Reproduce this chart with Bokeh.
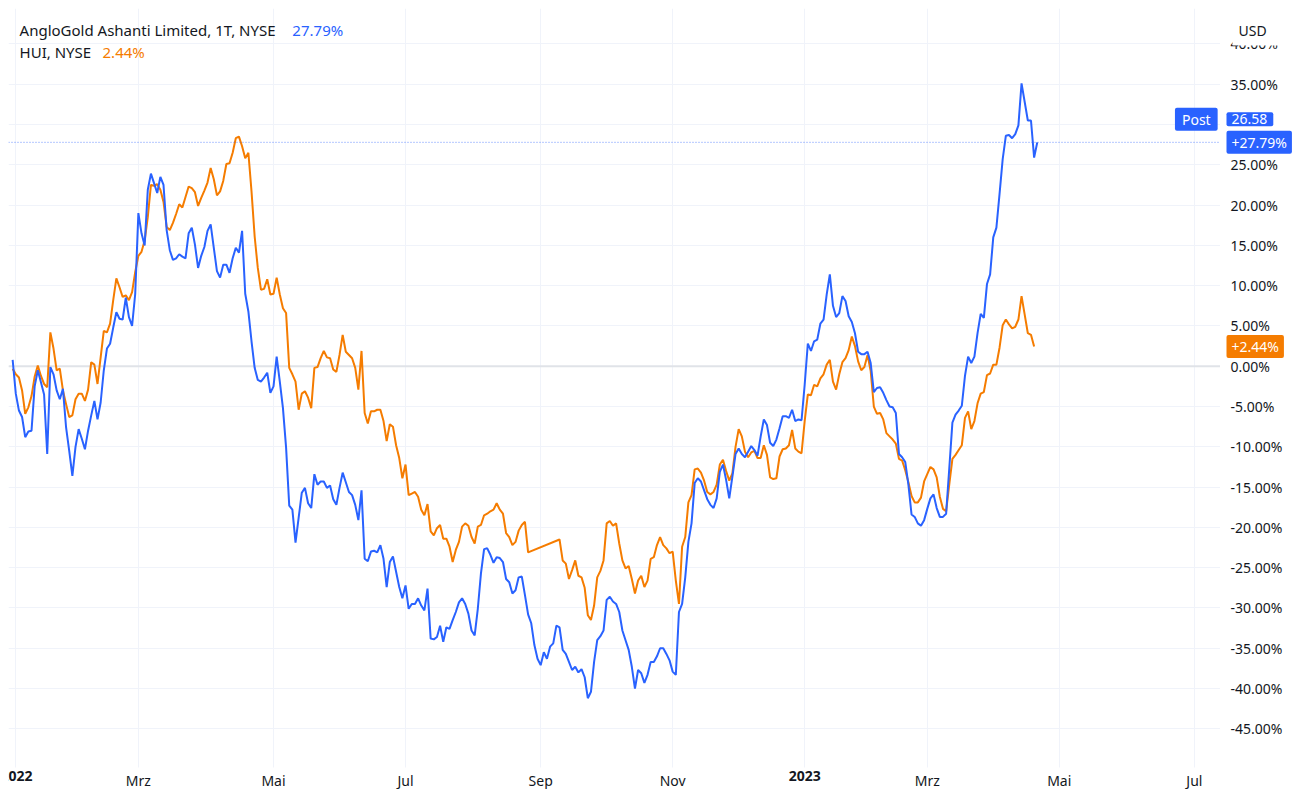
import numpy as np
from bokeh.plotting import figure
from bokeh.layouts import row
from bokeh.models import Range1d, FixedTicker, PrintfTickFormatter, Span, Label, LinearAxis
from bokeh.embed import file_html
from bokeh.resources import INLINE

# ---------------- data ----------------
# x values are NYSE trading sessions counted from the first session shown (31 Dec 2021)
FIRST_SESSION = "2021-12-31"
HOLIDAYS = ["2022-01-17", "2022-02-21", "2022-04-15", "2022-05-30", "2022-06-20",
            "2022-07-04", "2022-09-05", "2022-11-24", "2022-12-26", "2023-01-02",
            "2023-01-16", "2023-02-20", "2023-04-07", "2023-05-29", "2023-06-19",
            "2023-07-04"]

month_starts = ["2022-01-03", "2022-03-01", "2022-05-02", "2022-07-01", "2022-09-01",
                "2022-11-01", "2023-01-03", "2023-03-01", "2023-05-01", "2023-07-03"]
month_labels = ["2022", "Mrz", "Mai", "Jul", "Sep", "Nov", "2023", "Mrz", "Mai", "Jul"]
year_ticks = ["2022", "2023"]

y_ticks = [-45, -40, -35, -30, -25, -20, -15, -10, -5, 0, 5, 10, 15, 20, 25, 30, 35, 40]
hidden_y_tick = 30   # covered by the last-price tags

# AngloGold Ashanti (AU), % change, sessions 0..326
au_pct = [
    0.8, -3.4, -5.5, -6.3, -8.8, -8.1, -8.0, -2.5, -0.5, -2.0,
    -3.5, -10.9, -0.1, -1.0, -3.0, -4.1, -2.8, -7.6, -10.5, -13.6,
    -10.0, -7.8, -9.0, -10.3, -8.0, -6.1, -4.3, -6.6, -4.5, -0.5,
    2.2, 2.8, 4.8, 6.7, 5.9, 5.8, 8.5, 6.1, 5.0, 9.0,
    19.0, 16.5, 15.0, 21.9, 23.9, 22.7, 21.5, 23.5, 22.5, 16.9,
    14.4, 13.2, 13.4, 13.9, 13.6, 13.4, 16.5, 17.2, 15.1, 12.2,
    13.7, 14.8, 16.8, 17.6, 14.7, 11.8, 11.0, 12.6, 12.6, 11.6,
    13.4, 14.7, 14.1, 16.8, 9.0, 6.8, 3.1, -0.2, -1.7, -1.9,
    -1.4, -0.8, -3.3, -2.5, 1.2, -1.9, -5.2, -10.1, -17.3, -17.8,
    -21.9, -18.8, -15.7, -15.1, -17.0, -17.6, -13.4, -14.7, -14.3, -14.3,
    -15.1, -14.8, -16.5, -17.2, -15.1, -13.2, -14.4, -15.6, -16.0, -17.2,
    -19.1, -15.4, -23.9, -24.2, -23.0, -22.9, -23.1, -22.2, -23.9, -27.4,
    -24.3, -23.6, -25.5, -27.4, -28.8, -27.2, -30.1, -29.5, -29.5, -28.8,
    -29.7, -30.3, -27.6, -33.8, -33.9, -33.6, -32.2, -34.2, -32.4, -32.6,
    -31.5, -30.5, -29.3, -28.8, -29.5, -30.7, -32.8, -33.4, -30.1, -25.7,
    -22.7, -22.6, -23.4, -24.4, -23.7, -23.8, -24.3, -26.4, -26.8, -28.2,
    -27.8, -26.2, -26.1, -28.4, -30.8, -31.9, -34.6, -36.3, -37.1, -35.5,
    -36.3, -34.8, -34.4, -32.2, -32.4, -35.2, -35.7, -36.7, -37.7, -37.3,
    -38.0, -37.6, -38.6, -41.2, -40.4, -36.7, -34.0, -33.5, -32.8, -29.0,
    -28.6, -29.2, -29.5, -30.5, -32.8, -34.0, -35.2, -37.3, -40.0, -37.7,
    -38.1, -39.3, -38.3, -36.7, -36.7, -36.0, -35.0, -35.0, -35.7, -36.5,
    -37.9, -38.3, -30.5, -29.5, -26.2, -21.8, -19.5, -14.5, -13.9, -14.3,
    -15.4, -16.5, -17.2, -17.6, -16.4, -13.1, -12.2, -14.1, -16.4, -13.7,
    -10.9, -10.2, -10.9, -11.3, -10.6, -9.9, -10.4, -11.1, -8.7, -6.6,
    -7.3, -9.5, -9.9, -9.1, -7.7, -6.2, -6.2, -6.4, -5.4, -6.8,
    -6.6, -6.7, -2.3, 2.8, 1.9, 3.1, 3.3, 5.3, 5.8, 8.9,
    11.4, 7.5, 6.1, 6.6, 8.7, 8.1, 6.2, 5.5, 4.1, 1.8,
    1.5, 1.5, 1.8, 0.4, -3.2, -2.7, -2.6, -3.3, -4.2, -5.0,
    -5.1, -5.8, -10.9, -11.3, -11.9, -14.7, -18.4, -18.7, -19.5, -19.8,
    -19.1, -17.7, -16.4, -15.9, -17.6, -18.7, -18.7, -18.3, -12.7, -7.0,
    -6.0, -5.5, -4.9, -1.2, 1.2, 0.4, 1.2, 4.1, 6.5, 6.0,
    10.2, 11.4, 16.0, 17.2, 21.4, 25.7, 28.6, 28.7, 28.3, 28.8,
    29.9, 35.1, 32.8, 30.5, 30.5, 25.9, 27.79,
]
au_session = list(range(0, 327))

# HUI index, % change; no quotes for sessions 165..173
hui_pct = [
    -0.3, -1.0, -1.4, -3.0, -5.9, -5.1, -3.7, -1.3, 0.1, -1.2,
    -2.2, -2.6, 4.2, 2.2, -0.5, -0.3, -3.0, -4.7, -6.3, -6.1,
    -4.1, -3.4, -3.4, -4.3, -2.9, 0.5, 0.2, -2.2, 1.1, 4.4,
    4.2, 5.3, 8.2, 10.9, 9.8, 8.6, 8.8, 8.2, 9.2, 11.7,
    13.7, 14.2, 15.6, 18.5, 22.5, 22.4, 22.6, 21.9, 20.4, 17.3,
    16.9, 17.8, 18.9, 20.1, 19.7, 21.0, 22.3, 22.1, 21.6, 19.9,
    20.9, 21.8, 22.8, 24.6, 23.2, 21.2, 21.7, 23.0, 25.1, 25.2,
    26.5, 28.3, 28.5, 27.3, 25.8, 26.5, 21.7, 16.1, 12.2, 9.5,
    9.6, 10.8, 8.9, 9.0, 11.0, 8.9, 7.2, 6.6, -0.2, -1.0,
    -1.9, -5.4, -3.4, -3.1, -3.9, -5.2, -0.2, -0.1, 1.0, 1.9,
    1.1, 1.0, -0.4, -0.7, 1.4, 3.9, 1.8, 1.4, 1.0, -0.2,
    -2.9, 1.9, -5.8, -7.1, -5.6, -5.6, -5.4, -5.4, -6.8, -9.3,
    -7.2, -7.5, -9.8, -11.4, -13.9, -12.2, -16.0, -15.8, -15.6, -16.2,
    -17.8, -18.5, -17.1, -20.5, -21.0, -20.1, -19.7, -21.4, -21.4, -22.4,
    -24.3, -22.8, -21.8, -19.9, -19.5, -19.8, -21.2, -22.0, -19.9, -19.7,
    -18.5, -18.3, -18.0, -17.8, -17.0, -17.8, -18.3, -20.7, -21.2, -22.2,
    -21.8, -20.4, -19.7, -19.3, -23.1,
    -21.5, -24.1, -24.5, -26.4, -25.3, -24.1,
    -26.0, -26.2, -27.5, -30.9, -31.5, -29.7, -26.2, -25.4, -24.1, -19.5,
    -19.2, -19.8, -19.5, -22.0, -24.1, -25.1, -24.8, -26.4, -28.2, -26.6,
    -26.0, -27.4, -26.6, -23.9, -23.7, -22.2, -21.2, -22.2, -22.6, -23.2,
    -23.0, -26.6, -29.5, -22.4, -21.2, -16.9, -16.0, -12.8, -12.7, -13.2,
    -14.2, -15.6, -15.9, -15.6, -14.7, -12.2, -11.6, -13.0, -14.2, -13.3,
    -10.0, -7.8, -8.7, -10.6, -11.3, -10.7, -10.5, -11.4, -11.4, -9.8,
    -11.0, -13.8, -14.0, -13.9, -11.2, -10.3, -10.2, -9.8, -7.9, -10.2,
    -10.6, -10.8, -6.8, -3.5, -3.6, -2.3, -2.5, -1.5, -1.0, 0.2,
    0.8, -1.9, -2.9, -1.0, 0.5, 1.0, 2.0, 3.7, 2.5, 0.6,
    -0.5, -0.1, 1.4, -0.6, -5.0, -5.9, -5.8, -6.6, -8.3, -8.7,
    -9.1, -9.6, -11.5, -11.7, -12.9, -14.4, -16.1, -16.9, -16.9, -16.3,
    -14.3, -13.4, -12.5, -12.8, -13.8, -16.2, -17.7, -18.0, -14.7, -11.5,
    -11.0, -10.4, -9.8, -6.4, -5.6, -7.8, -6.8, -4.6, -3.4, -3.2,
    -1.1, -0.9, 0.2, 0.2, 2.3, 5.1, 5.8, 5.2, 4.7, 4.9,
    5.8, 8.7, 6.4, 4.1, 3.9, 2.44,
]
hui_session = list(range(0, 165)) + list(range(174, 326))

au_name = "AngloGold Ashanti Limited, 1T, NYSE"
hui_name = "HUI, NYSE"
au_last_price = "26.58"
au_last_pct = 27.79
hui_last_pct = 2.44

# ---------------- styling ----------------
BLUE = "#2962ff"
ORANGE = "#f57c00"
TEXT = "#131722"
GRID = "#f0f3fa"
FONT = "Noto Sans"
AX_FS = "14px"

tick_pos = np.busday_count(np.datetime64(FIRST_SESSION),
                           np.array(month_starts, dtype="datetime64[D]"),
                           holidays=HOLIDAYS).tolist()

PANE_BOTTOM = -49.8          # lower edge of the price pane (time scale sits below it)
PANE_TOP = 44.4
y_range = Range1d(-52.53, PANE_TOP)

# ---------- main chart ----------
p = figure(frame_width=1212, frame_height=781,
           x_range=Range1d(-1.32, 384.3), y_range=y_range,
           x_axis_location=None, y_axis_location=None,
           output_backend="svg", toolbar_location=None,
           min_border_left=8, min_border_top=8, min_border_right=0, min_border_bottom=0,
           background_fill_color="white", border_fill_color="white",
           outline_line_color=None)

year_pos = [tick_pos[month_labels.index(y)] for y in year_ticks]
month_axis = LinearAxis(fixed_location=PANE_BOTTOM, ticker=FixedTicker(ticks=tick_pos),
                        major_label_overrides={t: ("" if lab in year_ticks else lab)
                                               for t, lab in zip(tick_pos, month_labels)})
year_axis = LinearAxis(fixed_location=PANE_BOTTOM, ticker=FixedTicker(ticks=year_pos),
                       major_label_overrides=dict(zip(year_pos, year_ticks)),
                       major_label_text_font_style="bold")
for ax in (month_axis, year_axis):
    ax.axis_line_color = None
    ax.major_tick_line_color = None
    ax.minor_tick_line_color = None
    ax.major_tick_out = 0
    ax.major_tick_in = 0
    ax.major_label_text_color = TEXT
    ax.major_label_text_font = FONT
    ax.major_label_text_font_size = AX_FS
    ax.major_label_standoff = 3
    p.add_layout(ax, "below")

p.xgrid[0].ticker = FixedTicker(ticks=tick_pos)
p.xgrid.cross_bounds = (PANE_BOTTOM, PANE_TOP)
p.ygrid[0].ticker = FixedTicker(ticks=y_ticks)
p.xgrid.grid_line_color = GRID
p.ygrid.grid_line_color = GRID

p.add_layout(Span(location=0, dimension="width", line_color="#e0e3e8",
                  line_width=2, level="underlay"))

p.line(hui_session, hui_pct, line_color=ORANGE, line_width=2)
p.line(au_session, au_pct, line_color=BLUE, line_width=2)

p.add_layout(Span(location=au_last_pct, dimension="width", line_color=BLUE,
                  line_width=1, line_dash="1 2", line_alpha=0.7))

LEG_FS = "15px"
p.add_layout(Label(x=2.2, y=41.7, text=au_name, text_align="left", text_baseline="middle",
                   text_font=FONT, text_font_size=LEG_FS, text_color=TEXT))
p.add_layout(Label(x=89.0, y=41.7, text=f"{au_last_pct:.2f}%", text_align="left",
                   text_baseline="middle", text_font=FONT, text_font_size=LEG_FS,
                   text_color=BLUE))
p.add_layout(Label(x=2.2, y=39.0, text=hui_name, text_align="left", text_baseline="middle",
                   text_font=FONT, text_font_size=LEG_FS, text_color=TEXT))
p.add_layout(Label(x=28.6, y=39.0, text=f"{hui_last_pct:.2f}%", text_align="left",
                   text_baseline="middle", text_font=FONT, text_font_size=LEG_FS,
                   text_color=ORANGE))

tag_kw = dict(text_baseline="middle", text_font=FONT, text_font_size=AX_FS,
              text_color="white", border_radius=2)
p.add_layout(Label(x=376.6, y=30.65, text="Post", text_align="center",
                   background_fill_color=BLUE,
                   padding=dict(left=7, right=7, top=2, bottom=2), **tag_kw))

# ---------- price scale (right) ----------
p2 = figure(frame_width=80, frame_height=781, x_range=Range1d(0, 80), y_range=y_range,
            x_axis_location=None, y_axis_location="right",
            output_backend="svg", toolbar_location=None,
            min_border_left=0, min_border_top=8, min_border_right=0, min_border_bottom=0,
            background_fill_color="white", border_fill_color="white",
            outline_line_color=None)
p2.grid.visible = False
ra = p2.yaxis[0]
ra.fixed_location = 0
ra.ticker = FixedTicker(ticks=y_ticks)
ra.formatter = PrintfTickFormatter(format="%.2f%%")
ra.major_label_overrides = {hidden_y_tick: ""}
ra.axis_line_color = None
ra.major_tick_line_color = None
ra.minor_tick_line_color = None
ra.major_tick_out = 0
ra.major_tick_in = 0
ra.major_label_text_color = TEXT
ra.major_label_text_font = FONT
ra.major_label_text_font_size = AX_FS
ra.major_label_standoff = 10

p2.add_layout(Label(x=12, y=42.1, text="USD", text_align="left", text_baseline="middle",
                    text_font=FONT, text_font_size=AX_FS, text_color=TEXT,
                    background_fill_color="white",
                    padding=dict(left=6, right=36, top=12, bottom=6)))
p2.add_layout(Label(x=6, y=30.65, text=au_last_price, text_align="left",
                    background_fill_color=BLUE,
                    padding=dict(left=5, right=6, top=2, bottom=2), **tag_kw))
p2.add_layout(Label(x=6, y=au_last_pct, text=f"+{au_last_pct:.2f}%", text_align="left",
                    background_fill_color=BLUE,
                    padding=dict(left=5, right=5, top=2, bottom=2), **tag_kw))
p2.add_layout(Label(x=6, y=hui_last_pct, text=f"+{hui_last_pct:.2f}%", text_align="left",
                    background_fill_color=ORANGE,
                    padding=dict(left=5, right=5, top=2, bottom=2), **tag_kw))

layout = row(p, p2)
open("out.html", "w").write(file_html(layout, INLINE))
